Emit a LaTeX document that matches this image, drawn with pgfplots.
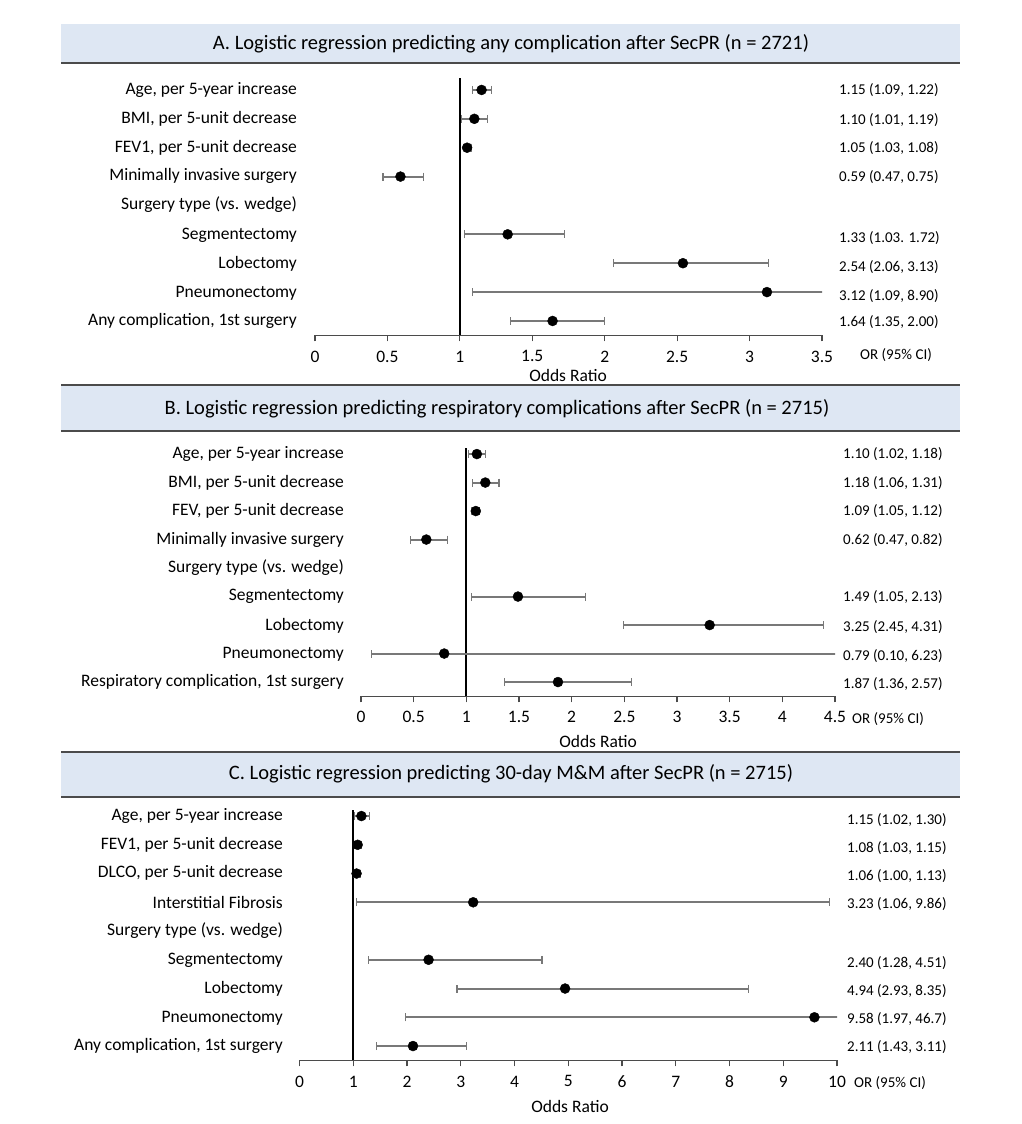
\documentclass[border=0pt]{standalone}
\usepackage{pgfplots}
\pgfplotsset{compat=1.18}
\usepackage{pgfplotstable}
\usepackage{fontspec}
\setmainfont{Carlito}

\definecolor{band}{RGB}{222,231,243}
\definecolor{rule}{RGB}{75,75,75}
\definecolor{cibar}{RGB}{120,120,120}

\newcommand\lab{\fontsize{17.5}{20}\selectfont}
\newcommand\val{\fontsize{15}{18}\selectfont}
\newcommand\ttl{\fontsize{20.5}{24}\selectfont}

% row or lo hi  (row 5 = "Surgery type (vs. wedge)", no estimate)
\pgfplotstableread{
row or lo hi
9 1.15 1.09 1.22
8 1.10 1.01 1.19
7 1.05 1.03 1.08
6 0.59 0.47 0.75
4 1.33 1.03 1.72
3 2.54 2.06 3.13
2 3.12 1.09 8.90
1 1.64 1.35 2.00
}\dataA
\pgfplotstableread{
row or lo hi
9 1.10 1.02 1.18
8 1.18 1.06 1.31
7 1.09 1.05 1.12
6 0.62 0.47 0.82
4 1.49 1.05 2.13
3 3.31 2.49 4.39
2 0.79 0.10 6.23
1 1.87 1.36 2.57
}\dataB
\pgfplotstableread{
row or lo hi
9 1.15 1.02 1.30
8 1.08 1.03 1.15
7 1.06 1.00 1.13
6 3.23 1.06 9.86
4 2.40 1.28 4.51
3 4.94 2.93 8.35
2 9.58 1.97 46.7
1 2.11 1.43 3.11
}\dataC

\pgfplotsset{
  forest/.style={
    scale only axis, anchor=south west,
    ymin=0.5, ymax=9.5,
    axis y line=none, axis x line=bottom,
    x axis line style={-, rule, line width=1.5pt},
    xtick align=outside, major tick length=6pt,
    xtick style={rule, line width=1.2pt},
    xticklabel style={font=\lab, anchor=center, yshift=-15pt},
    /pgf/number format/assume math mode=true,
  },
  ormark/.style={only marks, mark=*, mark size=5pt, black,
    error bars/.cd, x dir=both, x explicit,
    error bar style={draw=cibar, line width=2pt},
    error mark options={draw=cibar, line width=1.2pt, mark size=4pt, rotate=90}},
}

\begin{document}
\begin{tikzpicture}[x=1pt, y=1pt]
\path[use as bounding box] (0,0) rectangle (1022,-1124);

% title bands
\fill[band] (61,-24) rectangle (960,-63);
\draw[rule, line width=2pt] (61,-63) -- (960,-63);
\node[font=\ttl] at (511,-44) {A. Logistic regression predicting any complication after SecPR (n = 2721)};

\fill[band] (61,-385) rectangle (960,-431);
\draw[rule, line width=2pt] (61,-385) -- (960,-385);
\draw[rule, line width=2pt] (61,-431) -- (960,-431);
\node[font=\ttl] at (497,-409) {B. Logistic regression predicting respiratory complications after SecPR (n = 2715)};

\fill[band] (61,-752) rectangle (960,-797);
\draw[rule, line width=2pt] (61,-752) -- (960,-752);
\draw[rule, line width=2pt] (61,-797) -- (960,-797);
\node[font=\ttl] at (511,-774) {C. Logistic regression predicting 30-day M\&M after SecPR (n = 2715)};

% panel A
\begin{axis}[forest, at={(315pt,-335.4pt)}, width=507pt, height=259.9pt,
  xmin=0, xmax=3.5, xtick={0,0.5,...,3.5}]
\addplot[black, line width=2.2pt] coordinates {(1,0.5) (1,9.4)};
\addplot[ormark] table[x=or, y=row,
  x error plus expr=\thisrow{hi}-\thisrow{or},
  x error minus expr=\thisrow{or}-\thisrow{lo}] {\dataA};
\end{axis}

% panel B
\begin{axis}[forest, at={(361pt,-696.3pt)}, width=474pt, height=256.5pt,
  xmin=0, xmax=4.5, xtick={0,0.5,...,4.5}]
\addplot[black, line width=2.2pt] coordinates {(1,0.5) (1,9.2)};
\addplot[ormark] table[x=or, y=row,
  x error plus expr=\thisrow{hi}-\thisrow{or},
  x error minus expr=\thisrow{or}-\thisrow{lo}] {\dataB};
\end{axis}

% panel C
\begin{axis}[forest, at={(299.6pt,-1060.4pt)}, width=537.4pt, height=258.75pt,
  xmin=0, xmax=10, xtick={0,1,...,10}]
\addplot[black, line width=2.2pt] coordinates {(1,0.5) (1,9.2)};
\addplot[ormark] table[x=or, y=row,
  x error plus expr=\thisrow{hi}-\thisrow{or},
  x error minus expr=\thisrow{or}-\thisrow{lo}] {\dataC};
\end{axis}

% row labels
\foreach \y/\t in {90/{Age, per 5-year increase}, 119/{BMI, per 5-unit decrease},
  148/{FEV1, per 5-unit decrease}, 176/{Minimally invasive surgery},
  205/{Surgery type (vs. wedge)}, 235/{Segmentectomy}, 264/{Lobectomy},
  293/{Pneumonectomy}, 321/{Any complication, 1st surgery}}
  \node[font=\lab, anchor=east, inner sep=0pt] at (297,-\y) {\t};
\foreach \y/\t in {454/{Age, per 5-year increase}, 483/{BMI, per 5-unit decrease},
  511/{FEV, per 5-unit decrease}, 540/{Minimally invasive surgery},
  568/{Surgery type (vs. wedge)}, 596/{Segmentectomy}, 626/{Lobectomy},
  654/{Pneumonectomy}, 682/{Respiratory complication, 1st surgery}}
  \node[font=\lab, anchor=east, inner sep=0pt] at (344,-\y) {\t};
\foreach \y/\t in {816/{Age, per 5-year increase}, 845/{FEV1, per 5-unit decrease},
  873/{DLCO, per 5-unit decrease}, 902/{Interstitial Fibrosis},
  931/{Surgery type (vs. wedge)}, 960/{Segmentectomy}, 989/{Lobectomy},
  1018/{Pneumonectomy}, 1046/{Any complication, 1st surgery}}
  \node[font=\lab, anchor=east, inner sep=0pt] at (283,-\y) {\t};

% OR (95% CI) column
\foreach \y/\t in {90/{1.15 (1.09, 1.22)}, 120/{1.10 (1.01, 1.19)}, 148/{1.05 (1.03, 1.08)},
  177/{0.59 (0.47, 0.75)}, 238/{1.33 (1.03. 1.72)}, 267/{2.54 (2.06, 3.13)},
  296/{3.12 (1.09, 8.90)}, 322/{1.64 (1.35, 2.00)}}
  \node[font=\val, anchor=west, inner sep=0pt] at (839,-\y) {\t};
\foreach \y/\t in {454/{1.10 (1.02, 1.18)}, 483/{1.18 (1.06, 1.31)}, 511/{1.09 (1.05, 1.12)},
  540/{0.62 (0.47, 0.82)}, 597/{1.49 (1.05, 2.13)}, 627/{3.25 (2.45, 4.31)},
  656/{0.79 (0.10, 6.23)}, 684/{1.87 (1.36, 2.57)}}
  \node[font=\val, anchor=west, inner sep=0pt] at (843,-\y) {\t};
\foreach \y/\t in {820/{1.15 (1.02, 1.30)}, 848/{1.08 (1.03, 1.15)}, 876/{1.06 (1.00, 1.13)},
  904/{3.23 (1.06, 9.86)}, 963/{2.40 (1.28, 4.51)}, 991/{4.94 (2.93, 8.35)},
  1019/{9.58 (1.97, 46.7)}, 1047/{2.11 (1.43, 3.11)}}
  \node[font=\val, anchor=west, inner sep=0pt] at (847,-\y) {\t};

\node[font=\val, anchor=west, inner sep=0pt] at (860,-355) {OR (95\% CI)};
\node[font=\val, anchor=west, inner sep=0pt] at (852,-719) {OR (95\% CI)};
\node[font=\val, anchor=west, inner sep=0pt] at (854,-1083) {OR (95\% CI)};

\node[font=\lab] at (568,-375) {Odds Ratio};
\node[font=\lab] at (598,-741) {Odds Ratio};
\node[font=\lab] at (570,-1106) {Odds Ratio};
\end{tikzpicture}
\end{document}
